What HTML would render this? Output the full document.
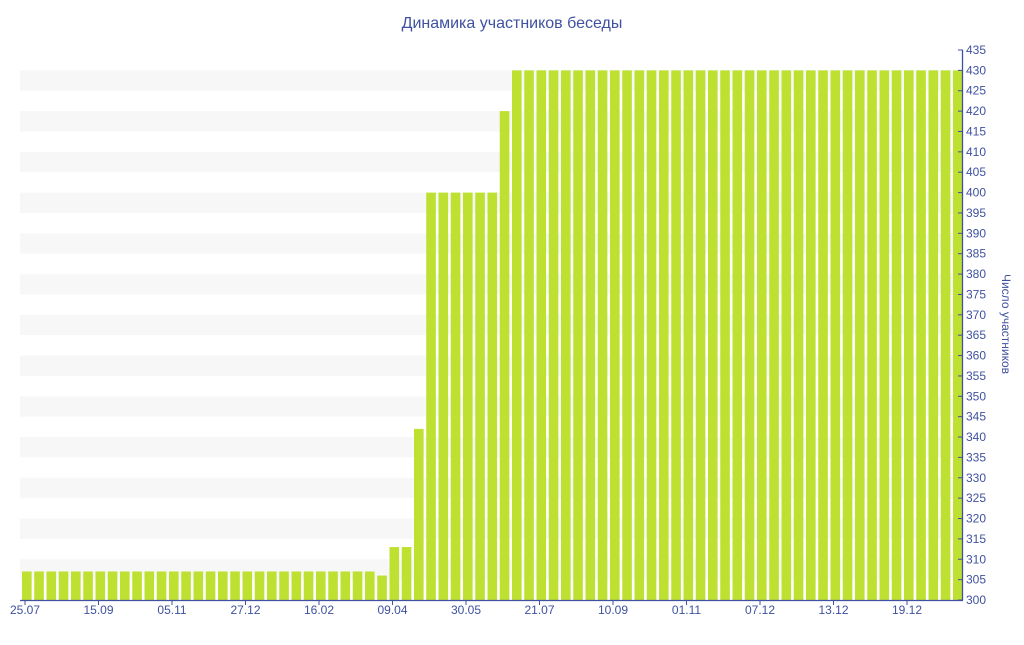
<!DOCTYPE html>
<html><head><meta charset="utf-8"><style>
body{margin:0;background:#fff;}
svg{font-family:"Liberation Sans","DejaVu Sans",sans-serif;}
</style></head><body>
<svg id="c" width="1024" height="640"></svg>
<script>
const tickLabels=["25.07","15.09","05.11","27.12","16.02","09.04","30.05","21.07","10.09","01.11","07.12","13.12","19.12"];
const values=[307,307,307,307,307,307,307,307,307,307,307,307,307,307,307,307,307,307,307,307,307,307,307,307,307,307,307,307,307,306,313,313,342,400,400,400,400,400,400,420,
430,430,430,430,430,430,430,430,430,430,430,430,430,430,430,430,430,430,430,430,430,430,430,430,430,430,430,430,430,430,430,430,430,430,430,430,430];
const yMin=300,yMax=435,yStep=5,labelEvery=6;
const NS="http://www.w3.org/2000/svg",svg=document.getElementById('c');
const L=20,R=962,T=50,B=600,step=12.25,bw=9.6,x0=22;
const y=v=>B-(v-yMin)/(yMax-yMin)*(B-T);
const xb=i=>x0+i*step;
function mk(t,a,p){const e=document.createElementNS(NS,t);for(const k in a)e.setAttribute(k,a[k]);(p||svg).appendChild(e);return e;}
// stripes
for(let v=yMin+5;v<yMax;v+=10){
 const r=mk('rect',{x:L,y:y(v+5),width:R-L,height:y(v)-y(v+5),fill:'#f7f7f7'});
 
 
}
// bars
values.forEach((v,i)=>{
 const r=mk('rect',{x:xb(i),y:y(v),width:bw,height:B-y(v),fill:'#bde031'});
 
 
});
// x axis
const xa=mk('line',{x1:L,y1:B+0.5,x2:R+1,y2:B+0.5,stroke:'#3f51a0','stroke-width':1.3});


tickLabels.forEach((t,k)=>{
 const xx=xb(k*labelEvery)+3;
 mk('line',{x1:xx,y1:B,x2:xx,y2:B+5,stroke:'#3f51a0'});
 const tx=mk('text',{x:xx,y:B+14,'text-anchor':'middle','font-size':12,fill:'#3f51a0'});
 tx.textContent=t;
 
 
});
// y axis
const ya=mk('line',{x1:R+0.5,y1:T,x2:R+0.5,y2:B,stroke:'#3f51a0','stroke-width':1.3});


for(let v=yMin;v<=yMax;v+=yStep){
 mk('line',{x1:R-4,y1:y(v),x2:R+1,y2:y(v),stroke:'#3f51a0'});
 const tx=mk('text',{x:R+4,y:y(v)+4,'font-size':12,fill:'#3f51a0'});
 tx.textContent=v;
 
 
}
const yt=mk('text',{x:1002,y:324,'text-anchor':'middle','font-size':12,fill:'#3f51a0',transform:'rotate(90 1002 324)'});
yt.textContent='Число участников';


const ti=mk('text',{x:512,y:28,'text-anchor':'middle','font-size':16,fill:'#3f51a0'});
ti.textContent='Динамика участников беседы';


</script>
</body></html>
